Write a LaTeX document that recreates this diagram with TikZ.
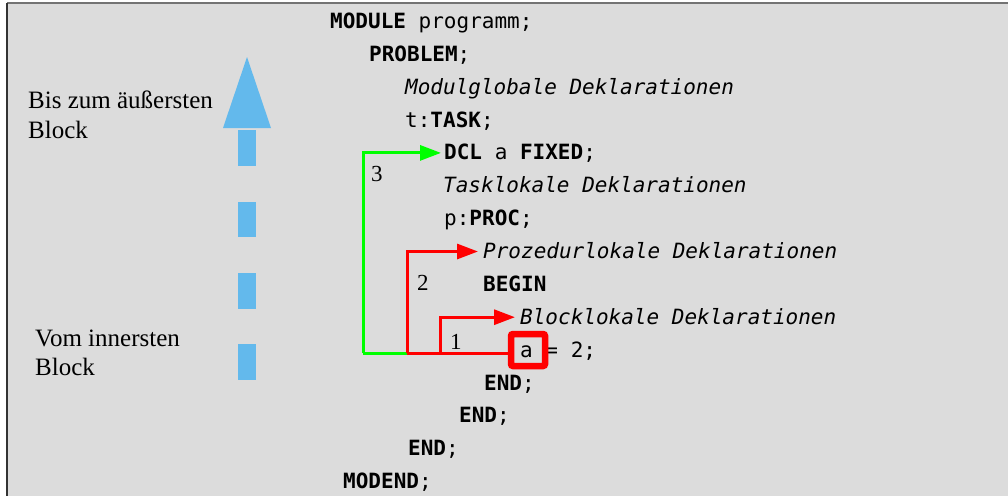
\documentclass[tikz,border=0pt]{standalone}
\usepackage{fontspec}
\setmainfont{Liberation Serif}
\newfontfamily\codefont{DejaVu Sans Mono}
\usetikzlibrary{arrows.meta}

\definecolor{panel}{RGB}{220,220,220}
\definecolor{skyblue}{RGB}{99,185,236}
\definecolor{lineGreen}{RGB}{0,255,0}
\definecolor{lineRed}{RGB}{255,0,0}

\tikzset{
  code/.style={anchor=base west, inner sep=0pt, font=\codefont\fontsize{21}{25}\selectfont},
  note/.style={anchor=base west, inner sep=0pt, font=\fontsize{25}{29}\selectfont},
  lvl/.style={anchor=base west, inner sep=0pt, font=\fontsize{23}{27}\selectfont},
  scope green/.style={draw=lineGreen, line width=3pt, -{Triangle[length=21pt,width=15pt]}},
  scope red/.style={draw=lineRed, line width=3pt, -{Triangle[length=21pt,width=15pt]}},
  varbox/.style={draw=lineRed, line width=6.5pt, rounded corners=2pt, minimum width=34pt, minimum height=32pt, inner sep=0pt},
}

\begin{document}
\begin{tikzpicture}[x=1pt, y=-1pt]
  \useasboundingbox (0,0) rectangle (1008,496);
  % panel background and frame
  \fill[white] (0,0) rectangle (1008,496);
  \fill[panel] (7,3) rectangle (1008,496);
  \draw[line width=2pt, color=black!55] (7,3) -- (1008,3);
  \draw[line width=2pt, color=black!80] (7,3) -- (7,496);

  % direction of the search: dashed upward arrow
  \fill[skyblue] (247,57) -- (271,128) -- (223,128) -- cycle;
  \foreach \ya/\yb in {130/166, 202/237, 273/309, 344/380}
    \fill[skyblue] (238,\ya) rectangle (256,\yb);

  \node[note] (top1) at (28,108) {Bis zum äußersten};
  \node[note] (top2) at (28,138) {Block};
  \node[note] (bot1) at (35,346) {Vom innersten};
  \node[note] (bot2) at (35,375) {Block};

  % program text
  \node[code] (l0)  at (330,28.5)  {\textbf{MODULE} programm;};
  \node[code] (l1)  at (369,61.3)  {\textbf{PROBLEM};};
  \node[code] (l2)  at (405,94.2)  {\textit{Modulglobale Deklarationen}};
  \node[code] (l3)  at (405,127.1) {t:\textbf{TASK};};
  \node[code] (dcl) at (444,159.9) {\textbf{DCL} a \textbf{FIXED};};
  \node[code] (l5)  at (443,192.8) {\textit{Tasklokale Deklarationen}};
  \node[code] (l6)  at (444,225.7) {p:\textbf{PROC};};
  \node[code] (prz) at (483,258.5) {\textit{Prozedurlokale Deklarationen}};
  \node[code] (l8)  at (483,291.4) {\textbf{BEGIN}};
  \node[code] (blk) at (520,324.2) {\textit{Blocklokale Deklarationen}};
  \node[code] (asg) at (520,357.1) {a = 2;};
  \node[code] (l11) at (484,390)   {\textbf{END};};
  \node[code] (l12) at (459,422.8) {\textbf{END};};
  \node[code] (l13) at (408,455.7) {\textbf{END};};
  \node[code] (l14) at (343,488.5) {\textbf{MODEND};};

  % highlighted use of the variable
  \node[varbox] (abox) at (528,350) {};

  % columns of the scope lookup
  \coordinate (c3) at (363,0);
  \coordinate (c2) at (407,0);
  \coordinate (c1) at (440,0);
  \coordinate (foot) at (0,353);

  \draw[lineRed, line width=3pt] (abox.west |- foot) -- (c2 |- foot);
  \draw[lineGreen, line width=3pt] (c2 |- foot) -- (c3 |- foot);

  \draw[scope red, shorten >=5pt] (c1 |- foot) -- (c1 |- blk.base) |- ([yshift=7pt]blk.base west);
  \draw[scope red, shorten >=5pt] (c2 |- foot) -- (c2 |- prz.base) |- ([yshift=7pt]prz.base west);
  \draw[scope green, shorten >=3pt] (c3 |- foot) -- (c3 |- dcl.base) |- ([yshift=7pt]dcl.base west);

  \node[lvl] (n1) at (450,349) {1};
  \node[lvl] (n2) at (417,290) {2};
  \node[lvl] (n3) at (371,181) {3};
\end{tikzpicture}
\end{document}
